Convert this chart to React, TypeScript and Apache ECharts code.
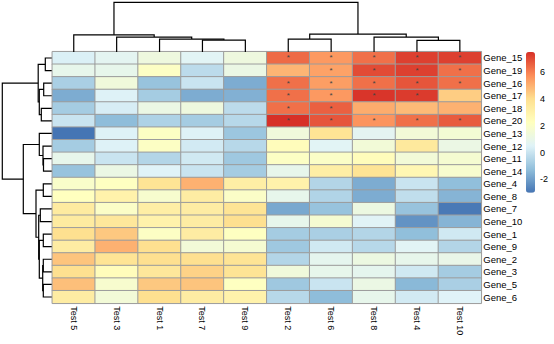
import React, { useEffect, useRef } from "react";
import * as echarts from "echarts";

// Column labels (display order after clustering)
const tests = ["Test 5", "Test 3", "Test 1", "Test 7", "Test 9", "Test 2", "Test 6", "Test 8", "Test 4", "Test 10"];
// Row labels (display order after clustering)
const genes = [
  "Gene_15", "Gene_19", "Gene_16", "Gene_17", "Gene_18", "Gene_20", "Gene_13", "Gene_12", "Gene_11", "Gene_14",
  "Gene_4", "Gene_8", "Gene_7", "Gene_10", "Gene_1", "Gene_9", "Gene_2", "Gene_3", "Gene_5", "Gene_6",
];

// Values per test column, one entry per gene (same order as genes)
const test5 = [0.4, 0.9, -0.7, -1.7, -0.8, 0.0, -3.0, -0.8, 0.9, -1.1, 1.9, 2.25, 3.4, 3.4, 4.0, 3.3, 4.6, 4.0, 4.7, 3.3];
const test3 = [0.7, 0.9, 1.4, 0.45, 0.3, -1.3, 0.45, 0.45, 0.0, 1.1, 2.2, 3.0, 2.0, 3.6, 4.5, 5.0, 3.8, 2.4, 1.8, 1.5];
const test1 = [1.3, 2.1, -1.1, -0.8, 1.1, -0.6, 2.1, 2.1, -0.5, 0.5, 3.8, 1.8, 3.2, 3.0, 2.1, 4.0, 4.0, 3.6, 4.5, 4.0];
const test7 = [0.6, -0.3, 0.0, -1.7, 1.3, -0.8, 0.45, 0.2, 0.15, 0.0, 5.0, 3.3, 3.3, 3.3, 3.3, 1.5, 4.0, 4.3, 4.6, 3.3];
const test9 = [1.3, 1.1, -1.7, -1.6, -0.3, -0.4, -1.0, -0.4, -0.95, -0.8, 3.2, 2.0, 3.8, 4.0, 2.2, 1.7, 3.8, 3.8, 2.2, 3.0];
const test2 = [6.4, 4.9, 6.3, 6.3, 6.3, 7.5, 1.4, 2.4, 2.1, 0.9, 3.0, 0.9, -1.8, 0.9, -0.8, -0.95, -0.5, 1.4, -0.95, -0.4];
const test6 = [5.5, 5.3, 5.4, 5.5, 6.6, 6.8, 3.8, 0.6, 2.0, 3.2, -0.5, -0.55, -1.1, 1.7, -0.7, 0.15, 0.8, 0.9, 0.0, -1.3];
const test8 = [6.3, 7.0, 6.3, 7.4, 5.1, 5.6, 0.7, 1.5, 2.4, 3.8, -1.7, -1.7, 1.2, 0.55, -0.5, -0.4, 1.2, 0.8, 1.1, 0.9];
const test4 = [7.2, 7.2, 6.8, 7.3, 4.8, 6.3, 1.5, 3.5, 1.5, 2.7, 0.0, -0.2, -1.1, -2.3, -1.25, 0.6, 0.9, 0.15, -1.4, 0.2];
const test10 = [7.2, 6.3, 6.3, 4.4, 5.0, 6.7, 1.6, 1.1, 1.7, 1.8, -1.25, -1.5, -2.9, -1.5, 0.15, -0.5, 1.0, -0.8, -0.7, 0.5];
const columns = [test5, test3, test1, test7, test9, test2, test6, test8, test4, test10];

// Significance marks per gene row (one character per column)
const marks = [
  "     *****",
  "      ****",
  "     *****",
  "     **** ",
  "     **   ",
  "     *****",
];

// Dendrogram merges (hclust style: negative = leaf index+1, positive = earlier merge number), with height
const colMerges: [number, number, number][] = [
  [-4, -5, 12],
  [-9, -10, 11.6],
  [-3, 1, 13],
  [-6, -7, 13],
  [-2, 3, 15],
  [-8, 2, 15],
  [-1, 5, 17.3],
  [4, 6, 18],
  [7, 8, 50],
];
const rowMerges: [number, number, number][] = [
  [-1, -2, 6.4],
  [-3, -4, 8],
  [-5, -6, 10.4],
  [2, 3, 12.4],
  [1, 4, 13.5],
  [-9, -10, 8.2],
  [-8, 6, 8.7],
  [-7, 7, 12.4],
  [-11, -12, 8.4],
  [-13, -14, 11.4],
  [-15, -16, 8.4],
  [-17, -18, 8.4],
  [-19, -20, 8.4],
  [12, 13, 9.0],
  [11, 14, 12.4],
  [10, 15, 13],
  [9, 16, 15.7],
  [8, 17, 28.4],
  [5, 18, 49.4],
];

const legendTicks = [-2, 0, 2, 4, 6];
const scaleMin = -3;
const scaleMax = 7.5;
const palette = ["#4575B4", "#91BFDB", "#E0F3F8", "#FFFFBF", "#FEE090", "#FC8D59", "#D73027"];

function dendroSegments(merges: [number, number, number][], vertical: boolean) {
  const pos: number[] = [];
  const hgt: number[] = [];
  const get = (r: number) => (r < 0 ? [-r - 1, 0] : [pos[r - 1], hgt[r - 1]]);
  const out: number[][] = [];
  merges.forEach(([a, b, h], k) => {
    const [pa, ha] = get(a);
    const [pb, hb] = get(b);
    pos[k] = (pa + pb) / 2;
    hgt[k] = h;
    out.push(vertical ? [pa, ha, pa, h, pb, h, pb, hb] : [ha, pa, h, pa, h, pb, hb, pb]);
  });
  return out;
}

const renderDendro = (_params: any, api: any) => {
  const pts = [0, 1, 2, 3].map((i) => api.coord([api.value(2 * i), api.value(2 * i + 1)]));
  return {
    type: "polyline",
    shape: { points: pts },
    style: { stroke: "#000", fill: null, lineWidth: 1.2 },
  };
};

export default function App() {
  const ref = useRef<HTMLDivElement>(null);
  useEffect(() => {
    if (!ref.current) return;
    const chart = echarts.init(ref.current, null, { renderer: "svg" });
    const heat: any[] = [];
    columns.forEach((col, c) => col.forEach((v, r) => heat.push([c, r, v])));
    const hidden = { show: false };
    chart.setOption({
      animation: false,
      backgroundColor: "#fff",
      textStyle: { fontFamily: "'Liberation Sans', Arial, sans-serif" },
      grid: [
        { left: 52.3, top: 51.7, width: 429, height: 251.6 },
        { left: 52.3, top: 2.3, width: 429, height: 49.7 },
        { left: 2.3, top: 51.7, width: 49.4, height: 251.6 },
        { left: 526, top: 52, width: 9, height: 140.7 },
      ],
      xAxis: [
        {
          gridIndex: 0,
          type: "category",
          data: tests,
          axisLine: hidden,
          axisTick: hidden,
          splitLine: hidden,
          axisLabel: { rotate: -90, margin: 3, fontSize: 9, color: "#000", interval: 0 },
        },
        { gridIndex: 1, type: "value", min: -0.5, max: 9.5, show: false },
        { gridIndex: 2, type: "value", min: 0, max: 49.4, inverse: true, show: false },
        { gridIndex: 3, type: "value", min: 0, max: 1, show: false },
      ],
      yAxis: [
        {
          gridIndex: 0,
          type: "category",
          data: genes,
          inverse: true,
          position: "right",
          axisLine: hidden,
          axisTick: hidden,
          splitLine: hidden,
          axisLabel: {
            margin: 2,
            fontSize: 9.5,
            color: "#000",
            interval: 0,
            fontFamily: "'Liberation Sans Narrow', 'Liberation Sans', Arial",
          },
        },
        { gridIndex: 1, type: "value", min: 0, max: 50, show: false },
        { gridIndex: 2, type: "value", min: -0.5, max: 19.5, inverse: true, show: false },
        {
          gridIndex: 3,
          type: "value",
          min: scaleMin,
          max: scaleMax,
          position: "right",
          axisLine: hidden,
          axisTick: hidden,
          splitLine: hidden,
          axisLabel: { customValues: legendTicks, margin: 5, fontSize: 9, color: "#000", showMinLabel: true, showMaxLabel: true },
        },
      ],
      visualMap: {
        type: "continuous",
        seriesIndex: 0,
        min: scaleMin,
        max: scaleMax,
        calculable: false,
        show: true,
        left: 526,
        top: 52,
        itemWidth: 9,
        itemHeight: 140.7,
        padding: 0,
        inRange: { color: palette },
      },
      series: [
        {
          type: "heatmap",
          xAxisIndex: 0,
          yAxisIndex: 0,
          data: heat,
          itemStyle: { borderColor: "#9c9c9c", borderWidth: 1 },
          label: {
            show: true,
            fontSize: 8,
            color: "#444",
            formatter: (p: any) => {
              const row = marks[p.data[1]];
              return row && row[p.data[0]] === "*" ? "*" : "";
            },
          },
          emphasis: { disabled: true },
        },
        {
          type: "custom",
          xAxisIndex: 1,
          yAxisIndex: 1,
          data: dendroSegments(colMerges, true),
          encode: { x: [0, 2, 4, 6], y: [1, 3, 5, 7] },
          renderItem: renderDendro,
          silent: true,
        },
        {
          type: "custom",
          xAxisIndex: 2,
          yAxisIndex: 2,
          data: dendroSegments(rowMerges, false),
          encode: { x: [0, 2, 4, 6], y: [1, 3, 5, 7] },
          renderItem: renderDendro,
          silent: true,
        },
      ],
    });
    return () => chart.dispose();
  }, []);
  return <div ref={ref} style={{ position: "absolute", left: 0, top: 0, width: 554, height: 344 }} />;
}
